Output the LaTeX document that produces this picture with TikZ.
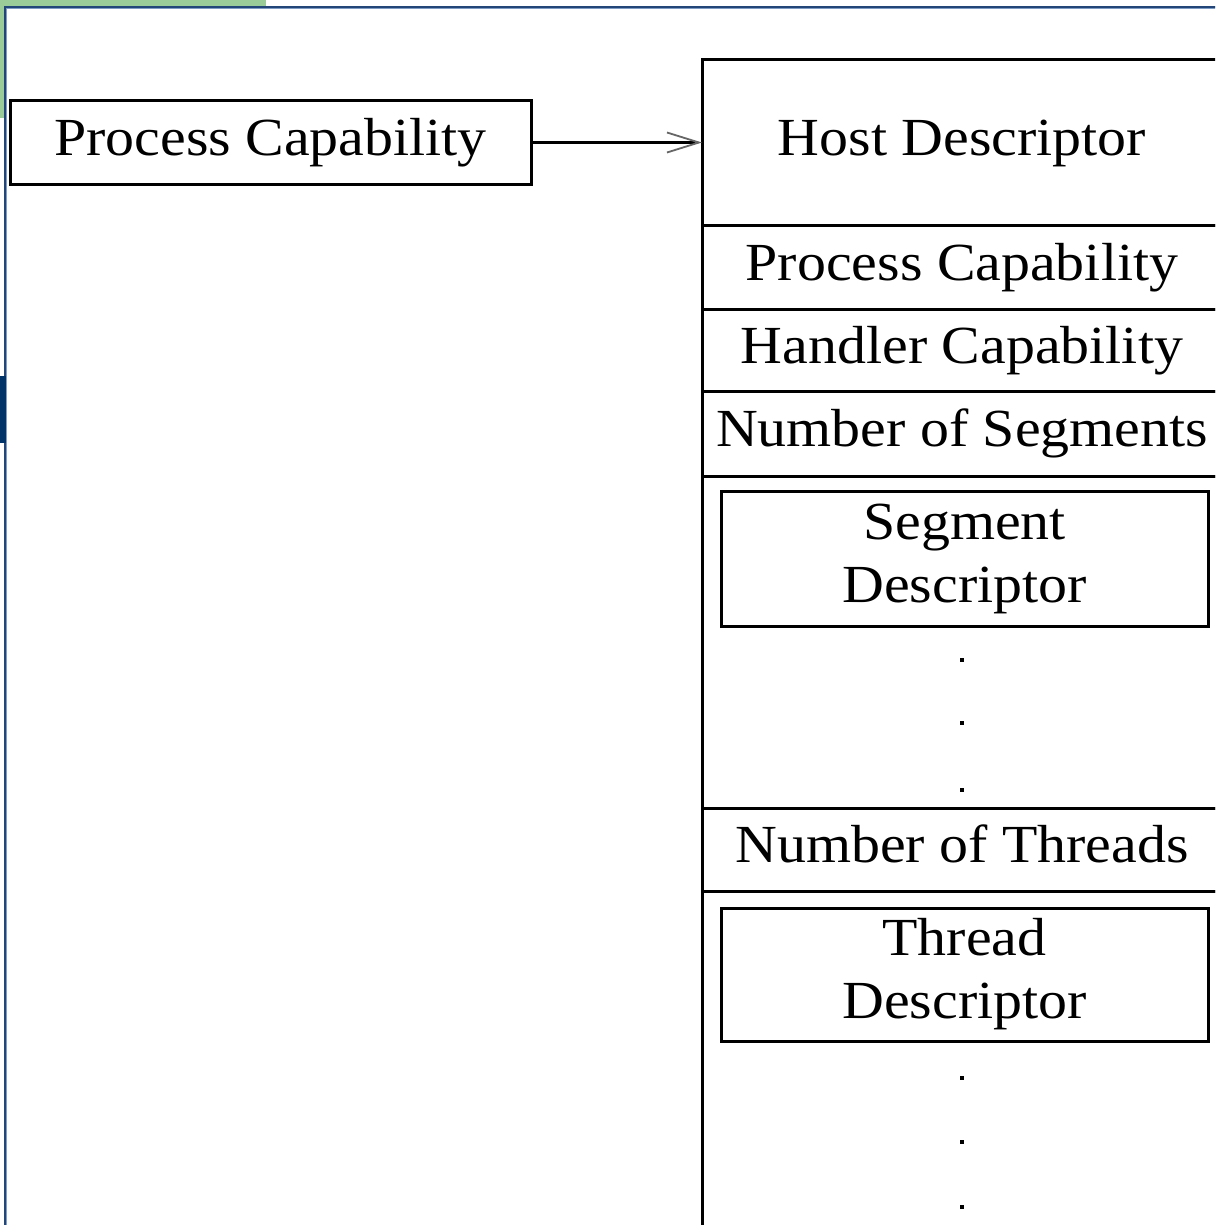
\documentclass[tikz,border=0pt]{standalone}
\usepackage{fontspec}
\setmainfont{Liberation Serif}[FakeStretch=1.08]
\usetikzlibrary{arrows.meta}
\definecolor{framegreen}{RGB}{153,204,153}
\definecolor{frameblue}{RGB}{34,70,120}
\definecolor{frameedge}{RGB}{125,155,195}
\definecolor{tabblue}{RGB}{0,52,104}
\newcommand\boxfont{\fontsize{26.8}{31.5}\selectfont}
\begin{document}
\begin{tikzpicture}[x=0.5pt,y=-0.5pt,
  box/.style={draw, line width=1.5pt, rectangle, inner sep=0pt, outer sep=0pt,
              align=center, font=\boxfont},
  sect/.style={box, minimum width=260pt, text height=19pt, text depth=6pt},
  inner/.style={box, minimum width=243.5pt},
  dotmark/.style={fill=black},
  link/.style={line width=1.5pt,
    -{Straight Barb[length=16pt, width=10pt, line width=0.9pt, color=black!60]}}]
  \useasboundingbox (0,0) rectangle (1215,1225);
  \clip (0,0) rectangle (1215,1225);

  % slide frame
  \fill[framegreen] (0,0) rectangle (266,6);
  \fill[framegreen] (0,0) rectangle (4,118);
  \draw[frameedge, line width=1.5pt] (5.3,1240) -- (5.3,7.3) -- (1230,7.3);
  \draw[frameblue, line width=0.9pt] (5.3,1240) -- (5.3,7.3) -- (1230,7.3);
  \fill[tabblue] (0,376) rectangle (6,443);

  % source capability
  \node[box, minimum width=260.5pt, minimum height=42pt] (pc) at (270.5,142.5) {Process Capability};

  % descriptor column
  \node[sect, minimum height=83pt,   anchor=north] (host)  at (962,60)  {Host Descriptor};
  \node[sect, minimum height=41.5pt, anchor=north] (proc)  at (962,226) {Process Capability};
  \node[sect, minimum height=41pt,   anchor=north] (hand)  at (962,309) {Handler Capability};
  \node[sect, minimum height=42.5pt, anchor=north] (nseg)  at (962,391) {Number of Segments};
  \node[sect, minimum height=166pt,  anchor=north] (segs)  at (962,476) {};
  \node[sect, minimum height=41.5pt, anchor=north] (nthr)  at (962,808) {Number of Threads};
  \node[sect, minimum height=180pt,  anchor=north] (thrs)  at (962,891) {};

  \node[inner, minimum height=67.5pt, anchor=north] (seg) at (964.5,491) {Segment\\Descriptor};
  \node[inner, minimum height=66.5pt, anchor=north] (thr) at (964.5,908) {Thread\\Descriptor};

  % ellipsis dots
  \foreach \y in {660,723,790,1078,1142,1207}
    \fill[dotmark] (960,\y-2) rectangle (964,\y+2);

  % connector
  \draw[link] (pc.east) -- (pc.east -| host.west);
\end{tikzpicture}
\end{document}
